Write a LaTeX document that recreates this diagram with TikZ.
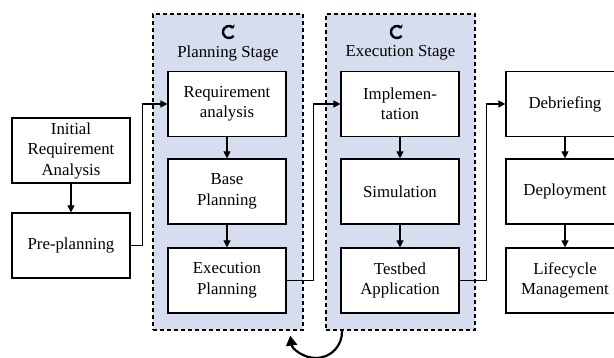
\documentclass[tikz,border=0pt]{standalone}
\usepackage{fontspec}
\setmainfont{Liberation Serif}
\usetikzlibrary{arrows.meta}
\definecolor{stageblue}{RGB}{214,221,239}
\tikzset{
  stepbox/.style={draw, line width=1.2pt, fill=white, minimum width=118pt, minimum height=65pt, inner sep=0pt, align=center, font=\fontsize{16.8}{20.5}\selectfont},
  stagebox/.style={draw, line width=1.1pt, dash pattern=on 4pt off 3pt, fill=stageblue, inner sep=0pt},
  arr/.style={line width=1.2pt, -{Triangle[length=7pt,width=7pt]}},
  cycleicon/.style={line width=2.4pt, -{Triangle[length=2.5pt,width=6pt]}}
}
\begin{document}
\begin{tikzpicture}[x=1pt,y=1pt]
\useasboundingbox (0,0) rectangle (614,358);
% stages
\node[stagebox, minimum width=150pt, minimum height=316pt] (planSTAGE) at (228,186) {};
\node[stagebox, minimum width=149pt, minimum height=316pt] (execSTAGE) at (400.5,186) {};
\node[font=\fontsize{16.8}{20.5}\selectfont] (planTITLE) at (228,305) {Planning Stage};
\node[font=\fontsize{16.8}{20.5}\selectfont] (execTITLE) at (400.5,305) {Execution Stage};
\draw[cycleicon] (229,326) ++(-40:6) arc[start angle=-40, end angle=-322, radius=6];
\draw[cycleicon] (397,326) ++(-40:6) arc[start angle=-40, end angle=-322, radius=6];

% left column
\node[stepbox] (initREQ) at (71,207.5) {Initial\\Requirement\\Analysis};
\node[stepbox] (preplanREQ) at (71,112.5) {Pre-planning};
% planning stage
\node[stepbox] (reqanPS) at (227,254) {Requirement\\analysis};
\node[stepbox] (basePS) at (227,166.5) {Base\\Planning};
\node[stepbox] (execPS) at (227,77.5) {Execution\\Planning};
% execution stage
\node[stepbox] (implES) at (400,254) {Implemen-\\tation};
\node[stepbox] (simES) at (400,166.5) {Simulation};
\node[stepbox] (testES) at (400,77.5) {Testbed\\Application};
% right column
\node[stepbox] (debrDEP) at (565,254) {Debriefing};
\node[stepbox] (deplDEP) at (565,166.5) {Deployment};
\node[stepbox] (lifeDEP) at (565,77.5) {Lifecycle\\Management};

\draw[arr] (initREQ) -- (preplanREQ);
\draw[arr] (reqanPS) -- (basePS);
\draw[arr] (basePS) -- (execPS);
\draw[arr] (implES) -- (simES);
\draw[arr] (simES) -- (testES);
\draw[arr] (debrDEP) -- (deplDEP);
\draw[arr] (deplDEP) -- (lifeDEP);

\draw[arr] (preplanREQ.east) -- ++(12,0) |- (reqanPS.west);
\draw[arr] (execPS.east) -- ++(27,0) |- (implES.west);
\draw[arr] (testES.east) -- ++(27,0) |- (debrDEP.west);

% loop back
\draw[line width=2.2pt, -{Triangle[length=10pt,width=11pt]}] (316,26) ++(2:26) arc[start angle=2, end angle=-172, radius=26];
\end{tikzpicture}
\end{document}
